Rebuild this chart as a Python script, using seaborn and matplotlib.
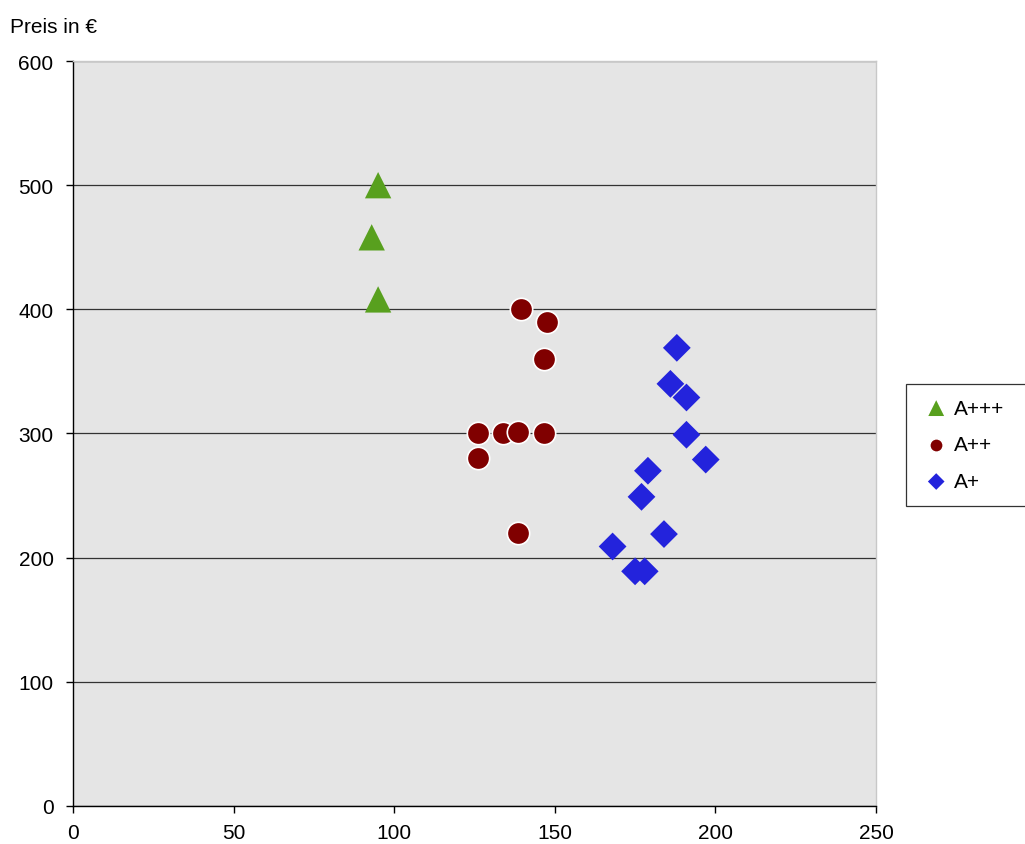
import numpy as np
import pandas as pd
import matplotlib
matplotlib.use("Agg")
import matplotlib.pyplot as plt
import seaborn as sns

# data: energy use (x) vs price in EUR (y)
a3_x = [95, 93, 95]
a3_y = [500, 458, 408]

a2_x = [139.5, 147.5, 146.5, 126, 126, 134, 138.5, 146.5, 138.5]
a2_y = [400, 390, 360, 300, 280, 300, 301, 300, 220]

a1_x = [188, 186, 191, 191, 197, 179, 177, 184, 168, 175, 178]
a1_y = [369, 340, 329, 299, 279, 270, 249, 219, 209, 189, 189]

labels = ["A+++", "A++", "A+"]
colors = {"A+++": "#58A01E", "A++": "#800000", "A+": "#2323DC"}

df = pd.concat([
    pd.DataFrame({"x": a3_x, "y": a3_y, "klasse": "A+++"}),
    pd.DataFrame({"x": a2_x, "y": a2_y, "klasse": "A++"}),
    pd.DataFrame({"x": a1_x, "y": a1_y, "klasse": "A+"}),
])

sns.set_style("white")
plt.rcParams["font.family"] = ["Liberation Sans", "DejaVu Sans"]
plt.rcParams["text.color"] = "black"
plt.rcParams["xtick.color"] = "black"
plt.rcParams["ytick.color"] = "black"

fs = 15

fig = plt.figure(figsize=(10.25, 8.45), dpi=100)
ax = fig.add_axes([0.0712, 0.045, 0.7834, 0.8816])
ax.set_facecolor("#E5E5E5")

styles = {
    "A+++": dict(marker="^", s=360, edgecolor="none"),
    "A++": dict(marker="o", s=260, edgecolor="white", linewidth=1.2),
    "A+": dict(marker="D", s=200, edgecolor="none"),
}
for k in labels:
    sns.scatterplot(data=df[df["klasse"] == k], x="x", y="y", color=colors[k],
                    ax=ax, label=k, zorder=3, **styles[k])

ax.set_xlim(0, 250)
ax.set_ylim(0, 600)
ax.set_xticks(np.arange(0, 251, 50))
ax.set_yticks(np.arange(0, 601, 100))
ax.yaxis.grid(True, color="#333333", linewidth=0.9)
ax.set_axisbelow(True)
ax.set_xlabel("")
ax.set_ylabel("")
ax.tick_params(axis="both", labelsize=fs, length=5, width=1, color="black",
               direction="out", bottom=True, left=True)
ax.tick_params(axis="x", pad=7)
ax.tick_params(axis="y", pad=9)
for s in ["left", "bottom"]:
    ax.spines[s].set_color("black")
    ax.spines[s].set_linewidth(1)
for s in ["top", "right"]:
    ax.spines[s].set_color("#C8C8C8")
    ax.spines[s].set_linewidth(1)

fig.text(0.0098, 0.968, "Preis in €", fontsize=fs, ha="left", va="center")

h, l = ax.get_legend_handles_labels()
leg_h = 125 / 845
leg = ax.legend(h, l, loc="upper left",
                bbox_to_anchor=(906 / 1025, 1 - 385 / 845 - leg_h, 125 / 1025, leg_h),
                bbox_transform=fig.transFigure, mode="expand",
                fontsize=fs, frameon=True, fancybox=False, markerscale=0.6,
                handletextpad=0.1, labelspacing=0.85, borderpad=0.7,
                handlelength=1.5, borderaxespad=0)
leg.get_frame().set_edgecolor("black")
leg.get_frame().set_linewidth(0.9)

fig.savefig("out.png", dpi=100)
